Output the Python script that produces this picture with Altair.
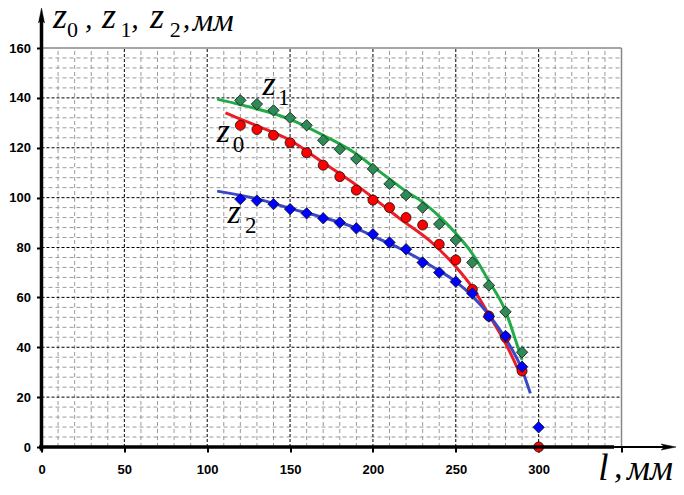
import altair as alt
import pandas as pd

# ---- measured points ----
l_pts = [120, 130, 140, 150, 160, 170, 180, 190, 200, 210, 220, 230, 240, 250, 260, 270, 280, 290]
z0_pts = [129, 127.3, 125, 122, 118, 113, 108.4, 103, 99, 96, 92, 89, 81.3, 75, 63.2, 52.5, 44, 30.5]
z1_pts = [139, 137.5, 135, 132, 129, 123, 119.4, 115.5, 111.5, 105.5, 101, 96, 89.4, 83, 74, 64.8, 54.2, 38]
z2_pts = [99.4, 98.8, 97.4, 95.4, 93.7, 91.7, 90, 87.7, 85.3, 82, 79.3, 74, 70, 66.3, 61.6, 52.3, 44.5, 32.2]
l_end = [300]
z0_end = [0]
z2_end = [7.9]

# ---- fitted curves ----
z0_curve_l = [111, 120, 130, 150, 170, 190, 200, 216, 236, 250, 260, 270, 280, 289]
z0_curve = [134, 131.5, 128.8, 123, 114, 105, 100, 91.7, 81.7, 72.3, 64, 53, 41.6, 29]
z1_curve_l = [106, 120, 150, 170, 190, 200, 210, 220, 230, 240, 250, 260, 270, 280, 287, 290]
z1_curve = [139.5, 137.3, 131.4, 125, 117.5, 112.5, 107.5, 102.5, 98.2, 92.5, 85.7, 77.5, 66.5, 54.5, 41, 35]
z2_curve_l = [106, 130, 150, 170, 190, 200, 216, 236, 250, 260, 270, 280, 290, 295]
z2_curve = [102.6, 99.5, 95.7, 92, 87.7, 84.6, 79.7, 72.3, 66.3, 60.5, 53, 43.5, 31, 21.5]

# ---- ticks / grid ----
x_ticks = [0, 50, 100, 150, 200, 250, 300, 350]
y_ticks = [0, 20, 40, 60, 80, 100, 120, 140, 160]
x_major = [50, 100, 150, 200, 250, 300]
y_major = [20, 40, 60, 80, 100, 120, 140]
x_minor = [v for v in range(10, 350, 10) if v % 50]
y_minor = [v for v in range(4, 160, 4) if v % 20]
x_max, y_max = 350, 160

xs = alt.Scale(domain=[0, 350], nice=False, zero=False)
ys = alt.Scale(domain=[0, 160], nice=False, zero=False)
W, H = 580, 399

axis_common = dict(domain=False, grid=False, tickColor="black", tickWidth=2, tickSize=5,
                   labelFont="Liberation Sans", labelFontWeight="bold", labelFontSize=13,
                   labelColor="black", title=None, labelFlush=False, labelOverlap=False)
x_axis = alt.Axis(values=x_ticks, labelPadding=11,
                  labelExpr="datum.value == 350 ? '' : datum.label", **axis_common)
y_axis = alt.Axis(values=y_ticks, labelPadding=6, **axis_common)


def XQ(f):
    return alt.X(f + ":Q", scale=xs, axis=x_axis)


def YQ(f):
    return alt.Y(f + ":Q", scale=ys, axis=y_axis)


def rule_mark(color, dash, width):
    kw = dict(color=color, strokeWidth=width)
    if dash:
        kw["strokeDash"] = dash
    return kw


def vrules(vals, color, dash, width=1, lo=0, hi=160):
    df = pd.DataFrame({"v": vals, "a": [lo] * len(vals), "b": [hi] * len(vals)})
    return alt.Chart(df).mark_rule(**rule_mark(color, dash, width)).encode(
        x=XQ("v"), y=YQ("a"), y2="b:Q")


def hrules(vals, color, dash, width=1, lo=0, hi=350):
    df = pd.DataFrame({"v": vals, "a": [lo] * len(vals), "b": [hi] * len(vals)})
    return alt.Chart(df).mark_rule(**rule_mark(color, dash, width)).encode(
        y=YQ("v"), x=XQ("a"), x2="b:Q")


grid = [
    vrules(x_minor, "#9a9a9a", [4, 3]),
    hrules(y_minor, "#9a9a9a", [4, 3]),
    vrules(x_major, "black", [3, 2]),
    hrules(y_major, "black", [3, 2]),
    vrules([x_max], "#888888", None, 1.5),
    hrules([y_max], "#888888", None, 1.5),
]


def curve(lv, zv, color):
    df = pd.DataFrame({"l": lv, "z": zv})
    return alt.Chart(df).mark_line(color=color, strokeWidth=3, interpolate="monotone").encode(
        x=XQ("l"), y=YQ("z"))


curves = [
    curve(z1_curve_l, z1_curve, "#22aa46"),
    curve(z0_curve_l, z0_curve, "#ee1c24"),
    curve(z2_curve_l, z2_curve, "#3a48c8"),
]


def pts(lv, zv, shape, fill, size):
    df = pd.DataFrame({"l": lv, "z": zv})
    return alt.Chart(df).mark_point(shape=shape, filled=True, fill=fill, stroke="#111111",
                                    strokeWidth=0.8, size=size, opacity=1).encode(
        x=XQ("l"), y=YQ("z"))


points = [
    pts(l_pts, z1_pts, "diamond", "#2e8b57", 130),
    pts(l_pts, z0_pts, "circle", "#ff0000", 100),
    pts(l_pts, z2_pts, "diamond", "#0000ff", 130),
    pts(l_end, z2_end, "diamond", "#0000ff", 130),
    pts(l_end, z0_end, "circle", "#ff0000", 100),
]

# axis lines with arrows
yaxis_line = alt.Chart(pd.DataFrame({"l": [0], "a": [-1.5], "b": [172]})).mark_rule(
    color="black", strokeWidth=3.5).encode(x=XQ("l"), y=YQ("a"), y2="b:Q")
xaxis_thick = alt.Chart(pd.DataFrame({"z": [0], "a": [-1.5], "b": [345.5]})).mark_rule(
    color="black", strokeWidth=3.5).encode(y=YQ("z"), x=XQ("a"), x2="b:Q")
xaxis_thin = alt.Chart(pd.DataFrame({"z": [0], "a": [345.5], "b": [378]})).mark_rule(
    color="black", strokeWidth=2).encode(y=YQ("z"), x=XQ("a"), x2="b:Q")
arrow_up = alt.Chart(pd.DataFrame({"l": [0], "z": [173]})).mark_point(
    shape="M0,-1L0.4,1L0,0.55L-0.4,1Z", filled=True, fill="black", stroke="black", strokeWidth=0.5,
    size=225, opacity=1).encode(x=XQ("l"), y=YQ("z"))
arrow_right = alt.Chart(pd.DataFrame({"l": [378.4], "z": [0]})).mark_point(
    shape="M1,0L-1,-0.4L-0.55,0L-1,0.4Z", filled=True, fill="black", stroke="black", strokeWidth=0.5,
    size=225, opacity=1).encode(x=XQ("l"), y=YQ("z"))

# ---- text annotations ----
ital_text = ["z", ",", "z", ",", "z", ",", "мм",
             "z", "z", "z",
             "l", ",", "мм"]
ital_x = [6.9, 26.3, 36.5, 54.2, 65.5, 85.3, 91.3,
          105.7, 133.4, 112.3,
          336, 345.5, 353.3]
ital_y = [168, 168, 168, 168, 168, 168, 167,
          122.3, 141.1, 89.8,
          -13.2, -12.4, -13.2]
ital_fs = [36, 30, 36, 30, 36, 30, 32,
           34, 34, 34,
           37, 34, 36]
sub_text = ["0", "1", "2", "0", "1", "2"]
sub_x = [15.4, 47.6, 77.4, 115.4, 142.7, 122.8]
sub_y = [164.4, 164.4, 164.4, 118.3, 137.1, 85.8]
sub_fs = [22, 22, 22, 23, 23, 23]

ital_df = pd.DataFrame({"l": ital_x, "z": ital_y, "t": ital_text, "fs": ital_fs})
sub_df = pd.DataFrame({"l": sub_x, "z": sub_y, "t": sub_text, "fs": sub_fs})

ital = alt.Chart(ital_df).mark_text(font="Liberation Serif", fontStyle="italic", align="left",
                                    baseline="alphabetic", color="black").encode(
    x=XQ("l"), y=YQ("z"), text="t:N", size=alt.Size("fs:Q", scale=None, legend=None))
subs = alt.Chart(sub_df).mark_text(font="Liberation Serif", align="left",
                                   baseline="alphabetic", color="black").encode(
    x=XQ("l"), y=YQ("z"), text="t:N", size=alt.Size("fs:Q", scale=None, legend=None))

chart = alt.layer(
    *grid, *curves, *points, xaxis_thick, xaxis_thin, yaxis_line, arrow_up, arrow_right, ital, subs
).properties(
    width=W, height=H,
    autosize=alt.AutoSizeParams(type="none"),
    padding={"left": 33.5, "top": 40, "right": 54, "bottom": 40},
    background="white",
).configure_view(stroke=None)

chart.save("out.html", embed_options={"renderer": "svg", "actions": False})
